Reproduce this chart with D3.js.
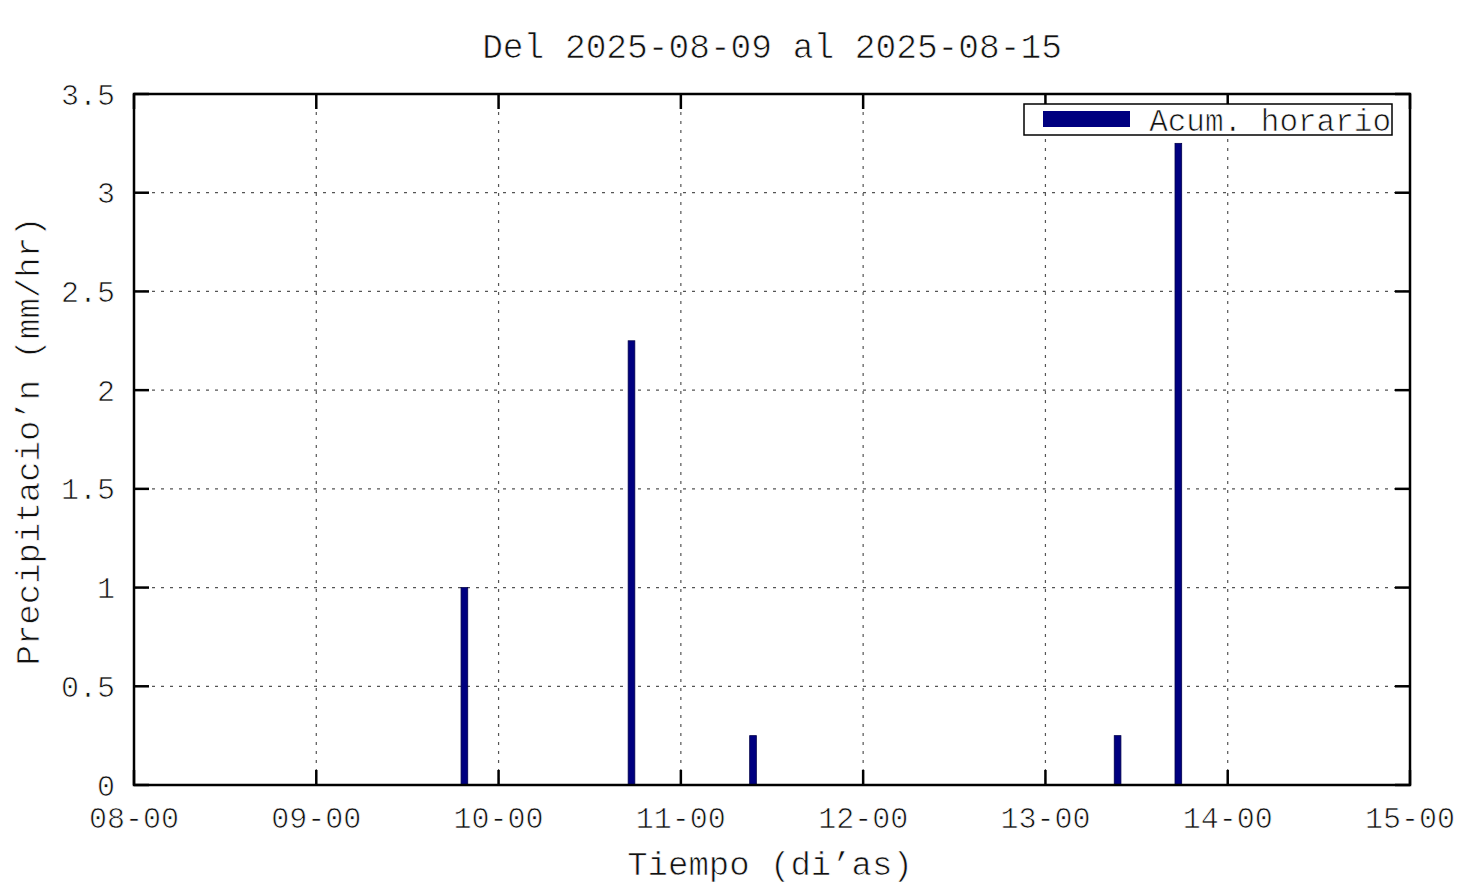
<!DOCTYPE html>
<html><head><meta charset="utf-8">
<script src="https://cdn.jsdelivr.net/npm/d3@7"></script>
<style>
body{margin:0;background:#fff;}
text{font-family:"Liberation Mono","Courier New",monospace;fill:#111;stroke:#fff;stroke-width:0.7px;}
</style></head>
<body><svg id="c" width="1476" height="885"></svg>
<script>
const times = ["2025-08-09T19:30:00Z","2025-08-10T17:30:00Z","2025-08-11T09:30:00Z","2025-08-13T09:30:00Z","2025-08-13T17:30:00Z"];
const values = [1.0, 2.25, 0.25, 0.25, 3.25];
const xDomain = ["2025-08-08T00:00:00Z","2025-08-15T00:00:00Z"];
const yTicks = [0,0.5,1,1.5,2,2.5,3,3.5];
const title = "Del 2025-08-09 al 2025-08-15";
const xLabel = "Tiempo (di\u2019as)";
const yLabel = "Precipitacio\u2019n (mm/hr)";
const legendLabel = "Acum. horario";

const svg = d3.select("#c");
const L=134, R=1410, T=94, B=785;
const x = d3.scaleUtc().domain(xDomain.map(d=>new Date(d))).range([L,R]);
const y = d3.scaleLinear().domain([0,3.5]).range([B,T]);
const xTicks = d3.utcDay.range(new Date(xDomain[0]), d3.utcDay.offset(new Date(xDomain[1]),1));
const fmt = d3.utcFormat("%d-%H");
const fsTick = 30, fsTitle = 34.5, fsLab = 34, fsLeg = 31;

// grid
const g = svg.append("g");
g.selectAll(".gy").data(yTicks.slice(1,-1)).join("line")
 .attr("x1",L).attr("x2",R).attr("y1",d=>y(d)).attr("y2",d=>y(d))
 .attr("stroke","#555").attr("stroke-width",1.2).attr("stroke-dasharray","3,6");
g.selectAll(".gx").data(xTicks.slice(1,-1)).join("line")
 .attr("x1",d=>x(d)).attr("x2",d=>x(d)).attr("y1",T).attr("y2",B)
 .attr("stroke","#555").attr("stroke-width",1.2).attr("stroke-dasharray","3,6");

// bars
const halfW = 0.44*3600*1000;
svg.selectAll(".bar").data(times.map((t,i)=>({t:new Date(t),v:values[i]}))).join("rect")
 .attr("x",d=>x(new Date(d.t-halfW)))
 .attr("width",d=>x(new Date(+d.t+halfW))-x(new Date(d.t-halfW)))
 .attr("y",d=>y(d.v)).attr("height",d=>y(0)-y(d.v))
 .attr("fill","#000080").attr("stroke","#00004a").attr("stroke-width",0.8);

// ticks
const tk = svg.append("g").attr("stroke","#000").attr("stroke-width",2.5);
yTicks.forEach(v=>{
  tk.append("line").attr("x1",L).attr("x2",L+15).attr("y1",y(v)).attr("y2",y(v));
  tk.append("line").attr("x1",R).attr("x2",R-15).attr("y1",y(v)).attr("y2",y(v));
});
xTicks.forEach(d=>{
  tk.append("line").attr("x1",x(d)).attr("x2",x(d)).attr("y1",B).attr("y2",B-15);
  tk.append("line").attr("x1",x(d)).attr("x2",x(d)).attr("y1",T).attr("y2",T+15);
});
svg.append("rect").attr("x",L).attr("y",T).attr("width",R-L).attr("height",B-T)
 .attr("fill","none").attr("stroke","#000").attr("stroke-width",2.5);

// tick labels
svg.selectAll(".yl").data(yTicks).join("text")
 .attr("x",115).attr("y",d=>y(d)).attr("dy","0.35em").attr("text-anchor","end")
 .attr("font-size",fsTick).text(d=>String(d));
svg.selectAll(".xl").data(xTicks).join("text")
 .attr("x",d=>x(d)).attr("y",828).attr("text-anchor","middle")
 .attr("font-size",fsTick).text(d=>fmt(d));

// titles
svg.append("text").attr("x",772).attr("y",58).attr("text-anchor","middle").attr("font-size",fsTitle).text(title);
svg.append("text").attr("x",770).attr("y",875).attr("text-anchor","middle").attr("font-size",fsLab).text(xLabel);
svg.append("text").attr("transform","translate(39,441) rotate(-90)").attr("text-anchor","middle").attr("font-size",fsLab).text(yLabel);

// legend
svg.append("rect").attr("x",1024).attr("y",104).attr("width",368).attr("height",31)
 .attr("fill","#fff").attr("stroke","#000").attr("stroke-width",1.5);
svg.append("rect").attr("x",1043).attr("y",111).attr("width",87).attr("height",16).attr("fill","#000080");
svg.append("text").attr("x",1391).attr("y",131).attr("text-anchor","end").attr("font-size",fsLeg).text(legendLabel);
</script></body></html>
